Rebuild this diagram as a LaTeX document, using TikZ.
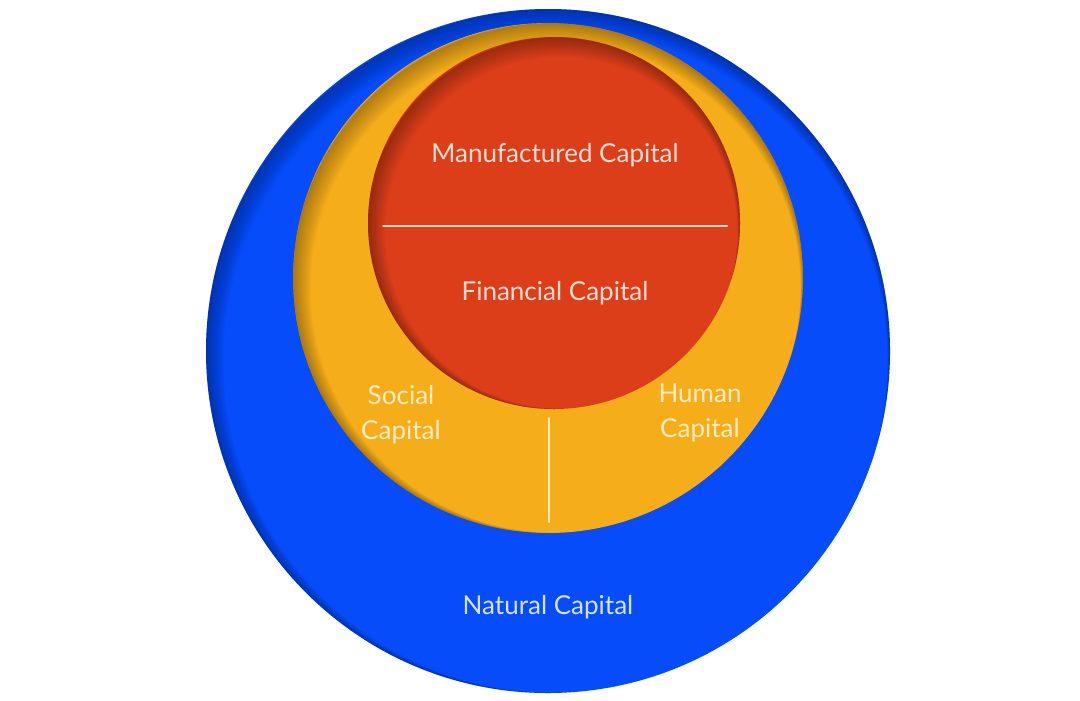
\documentclass[tikz,border=0pt]{standalone}
\usepackage{fontspec}
\setmainfont{Lato}
\usetikzlibrary{calc}

\definecolor{naturalblue}{RGB}{6,76,250}
\definecolor{capyellow}{RGB}{245,174,26}
\definecolor{capred}{RGB}{221,62,26}
\definecolor{redtext}{RGB}{250,222,212}
\definecolor{yellowtext}{RGB}{252,236,196}
\definecolor{bluetext}{RGB}{214,228,255}

\tikzset{
  captext/.style={text=#1, font=\fontsize{7.4}{10}\selectfont, align=center, inner sep=0pt},
  divider/.style={draw=#1, line width=0.2mm, line cap=round},
}

% soft shadow inside the top left edge of a disc: x, y, radius
\newcommand{\innershade}[3]{
  \begin{scope}
    \clip (#1,#2) circle (#3);
    \foreach \s in {1,...,10}
      \draw[black, opacity=0.03, line width=0.2mm*\s] (#1+0.75*\s,#2+\s) circle (#3);
  \end{scope}
}

\begin{document}
\begin{tikzpicture}[x=0.01cm, y=-0.01cm]

     \fill[white] (0,0) rectangle (1080,700);
     \useasboundingbox (0,0) rectangle (1080,700);

     % discs
     \fill[naturalblue] (548,351) circle (342);
     \innershade{548}{351}{342}
     \fill[capyellow] (548,278) circle (255);
     \innershade{548}{278}{255}
     \fill[capred] (554,223) circle (186);
     \innershade{554}{223}{186}

     % dividers
     \coordinate (redL) at (383,226);
     \coordinate (redR) at (727,226);
     \draw[divider=redtext] (redL) -- (redR);

     \coordinate (yelT) at (549,418);
     \coordinate (yelB) at (549,522);
     \draw[divider=yellowtext] (yelT) -- (yelB);

     % labels
     \node[captext=redtext] (manufactured) at (555,155) {Manufactured Capital};
     \node[captext=redtext] (financial) at (555,293) {Financial Capital};

     \node[captext=yellowtext] (social) at (401,415) {Social\\Capital};
     \node[captext=yellowtext] (human) at (700,413) {Human\\Capital};

     \node[captext=bluetext] (natural) at (548,607) {Natural Capital};

\end{tikzpicture}
\end{document}
